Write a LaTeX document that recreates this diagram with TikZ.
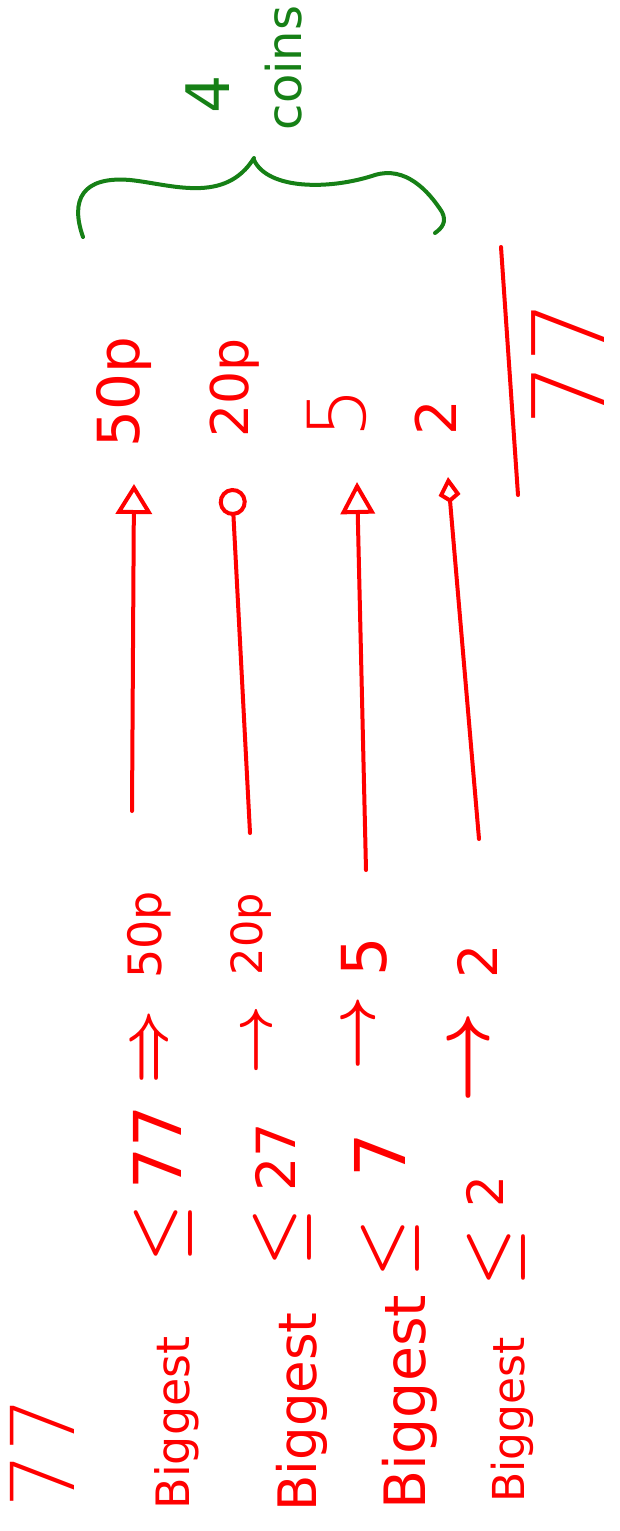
\documentclass[tikz,border=0pt]{standalone}
\usepackage{fontspec}
\setmainfont{DejaVu Sans}
\newfontfamily\hwthin{DejaVu Sans ExtraLight}
\usetikzlibrary{arrows.meta}
\definecolor{inkred}{RGB}{255,0,0}
\definecolor{inkgreen}{RGB}{22,128,22}
\newcommand{\hwfs}[1]{\fontsize{#1}{#1}\selectfont}
\newcommand{\hwthinfs}[1]{\hwthin\fontsize{#1}{#1}\selectfont}
\begin{document}
\begin{tikzpicture}[x=1pt,y=-1pt,
  lbl/.style={text=inkred, rotate=90, inner sep=0pt, anchor=center},
  glbl/.style={text=inkgreen, rotate=90, inner sep=0pt, anchor=center},
  sym/.style={text=inkred, rotate=90, inner sep=0pt, anchor=center, font=\boldmath},
  ink/.style={draw=inkred, line width=4pt, line cap=round, line join=round},
  gink/.style={draw=inkgreen, line width=4pt, line cap=round, line join=round}]
\useasboundingbox (0,0) rectangle (619,1531);

% green brace and label
\node[glbl, font=\hwfs{60}] (four) at (208,94) {4};
\node[glbl, font=\hwfs{48}] (coins) at (284,68) {coins};
\draw[gink] (83,237) .. controls (70,200) and (82,176) .. (130,180)
  .. controls (170,184) and (225,205) .. (254,158);
\draw[gink] (254,160) .. controls (268,190) and (330,190) .. (375,175)
  .. controls (405,166) and (428,190) .. (442,212)
  .. controls (447,222) and (442,228) .. (435,233);

% top row labels
\node[lbl, font=\hwfs{58}] (t50) at (124,392) {50p};
\node[lbl, font=\hwfs{52}] (t20) at (235,388) {20p};
\node[lbl, font=\hwthinfs{80}] (t5) at (337,413) {5};
\node[lbl, font=\hwfs{56}] (t2) at (436,418) {2};
\node[lbl, font=\hwthinfs{100}] (t77) at (568,363) {77};

% total line
\coordinate (ls) at (501,247);
\coordinate (le) at (518,495);
\draw[ink] (ls) -- (le);

% long arrows
\coordinate (a1s) at (132,811); \coordinate (a1e) at (134,484);
\coordinate (a2s) at (250,833); \coordinate (a2e) at (232,488);
\coordinate (a3s) at (366,870); \coordinate (a3e) at (357,482);
\coordinate (a4s) at (479,839); \coordinate (a4e) at (448,477);
\draw[ink, -{Triangle[open, length=30pt, width=36pt]}] (a1s) -- (a1e);
\draw[ink, -{Circle[open, length=28pt]}] (a2s) -- (a2e);
\draw[ink, -{Triangle[open, length=32pt, width=34pt]}] (a3s) -- (a3e);
\draw[ink, -{Kite[open, length=26pt, width=22pt, inset=8pt]}] (a4s) -- (a4e);

% column 1
\node[lbl, font=\hwfs{46}] (c1coin) at (149,935) {50p};
\node[sym, scale=6.5] (c1arr) at (153,1047) {$\Rightarrow$};
\node[lbl, font=\hwfs{66}] (c1num) at (157,1147) {77};
\node[sym, scale=6.5] (c1le) at (163,1233) {$\leq$};
\node[lbl, font=\hwfs{46}] (c1big) at (177,1423) {Biggest};

% column 2
\node[lbl, font=\hwfs{43}] (c2coin) at (251,934) {20p};
\node[sym, scale=6] (c2arr) at (260,1040) {$\rightarrow$};
\node[lbl, font=\hwfs{54}] (c2num) at (275,1157) {27};
\node[sym, scale=6.5] (c2le) at (282,1237) {$\leq$};
\node[lbl, font=\hwfs{53}] (c2big) at (302,1412) {Biggest};

% column 3
\node[lbl, font=\hwfs{62}] (c3coin) at (364,957) {5};
\node[sym, scale=6.5] (c3arr) at (362,1033) {$\rightarrow$};
\node[lbl, font=\hwfs{70}] (c3num) at (380,1155) {7};
\node[sym, scale=6.5] (c3le) at (390,1248) {$\leq$};
\node[lbl, font=\hwfs{57}] (c3big) at (410,1402) {Biggest};

% column 4
\node[lbl, font=\hwfs{54}] (c4coin) at (477,961) {2};
\node[sym, scale=8] (c4arr) at (473,1057) {$\rightarrow$};
\node[lbl, font=\hwfs{50}] (c4num) at (485,1192) {2};
\node[sym, scale=6.5] (c4le) at (496,1257) {$\leq$};
\node[lbl, font=\hwfs{44}] (c4big) at (512,1420) {Biggest};

% bottom-left total
\node[lbl, font=\hwthinfs{88}] (b77) at (42,1452) {77};
\end{tikzpicture}
\end{document}
